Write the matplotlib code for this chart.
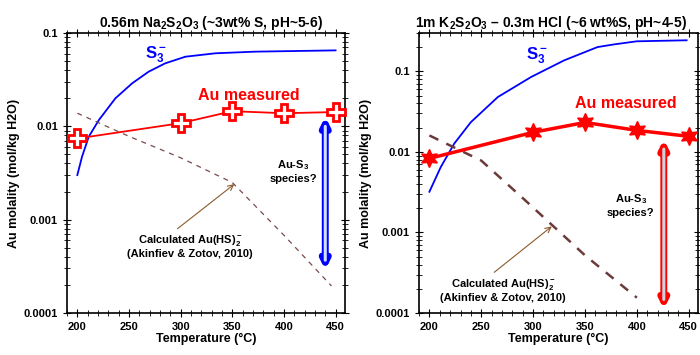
import matplotlib.pyplot as plt
import matplotlib
from matplotlib.patches import FancyArrowPatch
import numpy as np

matplotlib.rcParams['font.family'] = ['Liberation Sans', 'DejaVu Sans']
matplotlib.rcParams['font.weight'] = 'bold'
matplotlib.rcParams['mathtext.fontset'] = 'custom'
matplotlib.rcParams['mathtext.rm'] = 'Liberation Sans:bold'
matplotlib.rcParams['mathtext.bf'] = 'Liberation Sans:bold'
matplotlib.rcParams['mathtext.it'] = 'Liberation Sans:bold'
matplotlib.rcParams['mathtext.default'] = 'bf'

# left panel: 0.56m Na2S2O3
s3_T_left = [200, 204.5, 211, 220.7, 236.8, 253, 269, 285, 304.6, 333.7, 372.5, 450]
s3_left = [0.003, 0.0047, 0.0077, 0.0116, 0.0199, 0.0288, 0.0384, 0.0472,
           0.0556, 0.0605, 0.063, 0.065]
au_T_left = [200, 300, 350, 400, 450]
au_left = [0.0074, 0.0108, 0.0145, 0.0138, 0.0142]
hs_T_left = [200, 250, 300, 350, 400, 446]
hs_left = [0.0138, 0.0078, 0.0046, 0.0025, 0.00068, 0.000195]

# right panel: 1m K2S2O3 - 0.3m HCl
s3_T_right = [200, 211, 224, 240, 266, 298, 330, 362, 378, 400, 448]
s3_right = [0.0032, 0.0065, 0.0127, 0.0234, 0.048, 0.085, 0.137, 0.20,
            0.216, 0.236, 0.243]
au_T_right = [200, 300, 350, 400, 450]
au_right = [0.0083, 0.0175, 0.0232, 0.0185, 0.0156]
hs_T_right = [200, 250, 291, 350, 400]
hs_right = [0.016, 0.0078, 0.0026, 0.00052, 0.000155]

fig = plt.figure(figsize=(7, 3.55), dpi=100)
ax1 = fig.add_axes([0.0957, 0.1183, 0.397, 0.789])
ax2 = fig.add_axes([0.5986, 0.1183, 0.3986, 0.789])


def style(ax, ytop):
    ax.set_yscale('log')
    ax.set_xlim(190, 459)
    ax.set_ylim(0.0001, ytop)
    ax.set_xticks([200, 250, 300, 350, 400, 450])
    ax.set_xticks(np.arange(190, 460, 10), minor=True)
    ax.set_yticks([t for t in [0.0001, 0.001, 0.01, 0.1] if t <= ytop])
    ax.set_yticklabels([str(t) for t in [0.0001, 0.001, 0.01, 0.1] if t <= ytop])
    ax.tick_params(which='both', direction='inout', top=True, right=True, labelsize=8)
    ax.tick_params(which='major', length=6)
    ax.tick_params(which='minor', length=4)
    for lab in ax.get_xticklabels() + ax.get_yticklabels():
        lab.set_fontweight('bold')
    for s in ax.spines.values():
        s.set_linewidth(1.2)
    ax.set_xlabel('Temperature (°C)', fontsize=9, fontweight='bold', labelpad=1)
    ax.set_ylabel('Au molality (mol/kg H2O)', fontsize=9, fontweight='bold', labelpad=3)


def double_arrow(ax, x, y0, y1, edge, fill):
    ax.add_patch(FancyArrowPatch((x, y0), (x, y1), arrowstyle='<|-|>',
                                 mutation_scale=11, color=edge, lw=5, zorder=4))
    ax.add_patch(FancyArrowPatch((x, y0), (x, y1), arrowstyle='-',
                                 color=fill, lw=2.2, zorder=4,
                                 shrinkA=9, shrinkB=9))


# ---- left
ax = ax1
style(ax, 0.1)
ax.plot(s3_T_left, s3_left, color='blue', lw=1.3)
ax.plot(hs_T_left, hs_left, color='#7a4a4a', lw=0.9, dashes=(4, 4))
ax.plot(au_T_left, au_left, color='red', lw=1.3, marker='P', ms=13,
        mfc='white', mec='red', mew=2, zorder=5, clip_on=False)
double_arrow(ax, 440, 0.0136, 0.00027, 'blue', '#cfe0ff')
ax.text(409, 0.0033, 'Au-S$_3$\nspecies?', fontsize=8, ha='center', va='center',
        fontweight='bold', linespacing=1.2)
ax.text(309, 0.00052, 'Calculated Au(HS)$_2^-$\n(Akinfiev & Zotov, 2010)', fontsize=8,
        ha='center', va='center', fontweight='bold', linespacing=1.15)
ax.annotate('', xy=(352, 0.0024), xytext=(297, 0.0008),
            arrowprops=dict(arrowstyle='->', color='#8b5a2b', lw=0.8,
                            shrinkA=0, shrinkB=0))
ax.text(366, 0.0216, 'Au measured', color='red', fontsize=11.5,
        fontweight='bold', ha='center', va='center')
ax.text(276, 0.058, 'S$_3^-$', color='blue', fontsize=12, ha='center', va='center')
ax.set_title('0.56m Na$_2$S$_2$O$_3$ (~3wt% S, pH~5-6)', fontsize=10,
             fontweight='bold', pad=4, x=0.518)

# ---- right
ax = ax2
style(ax, 0.3)
ax.plot(s3_T_right, s3_right, color='blue', lw=1.3)
ax.plot(hs_T_right, hs_right, color='#6b3b3b', lw=1.8, dashes=(4, 3.5))
ax.plot(au_T_right, au_right, color='red', lw=2.5, marker=(6, 1, 0), ms=13,
        mfc='red', mec='red', zorder=5, clip_on=False)
double_arrow(ax, 426, 0.0155, 0.000103, 'red', '#c8d3dc')
ax.text(394, 0.0022, 'Au-S$_3$\nspecies?', fontsize=8, ha='center', va='center',
        fontweight='bold', linespacing=1.2)
ax.text(271, 0.000195, 'Calculated Au(HS)$_2^-$\n(Akinfiev & Zotov, 2010)', fontsize=8,
        ha='center', va='center', fontweight='bold', linespacing=1.15)
ax.annotate('', xy=(318, 0.00119), xytext=(262.5, 0.00032),
            arrowprops=dict(arrowstyle='->', color='#8b5a2b', lw=0.8,
                            shrinkA=0, shrinkB=0))
ax.text(389, 0.040, 'Au measured', color='red', fontsize=11.5,
        fontweight='bold', ha='center', va='center')
ax.text(304, 0.155, 'S$_3^-$', color='blue', fontsize=12, ha='center', va='center')
ax.set_title('1m K$_2$S$_2$O$_3$ – 0.3m HCl (~6 wt%S, pH~4-5)', fontsize=10,
             fontweight='bold', pad=4, x=0.473)

fig.savefig('out.png', dpi=100)
